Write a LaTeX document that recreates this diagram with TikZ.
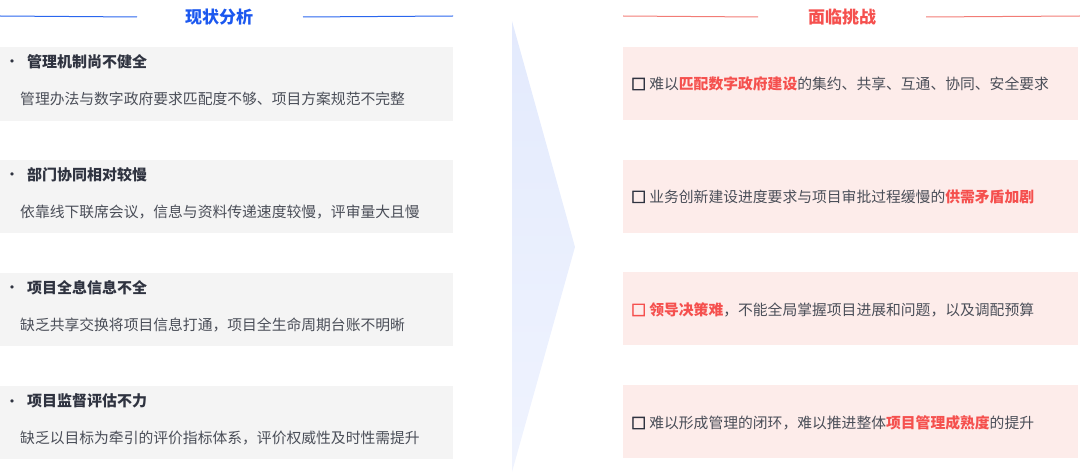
\documentclass[tikz,border=0pt]{standalone}
\usepackage{fontspec}
\setmainfont{Noto Sans CJK SC}
\newfontfamily\sqfont{Noto Sans CJK SC}[FakeBold=5]
\newfontfamily\dotfont{DejaVu Sans}
\usetikzlibrary{shadings}
\definecolor{greybox}{HTML}{F4F4F4}
\definecolor{pinkbox}{HTML}{FDECEA}
\definecolor{txt}{HTML}{4A4E58}
\definecolor{ttl}{HTML}{2F3340}
\definecolor{hred}{HTML}{F5504E}
\definecolor{hblue}{HTML}{1C58EF}
\definecolor{lblue}{HTML}{2A66EE}
\definecolor{lred}{HTML}{F27C76}
\definecolor{tri}{HTML}{E3EAFD}
\tikzset{
  leftbox/.style={fill=greybox, draw=none},
  rightbox/.style={fill=pinkbox, draw=none},
  head/.style={font=\fontsize{17}{20}\selectfont\bfseries, inner sep=0pt},
  ltitle/.style={anchor=west, font=\fontsize{15}{18}\selectfont\bfseries, text=ttl, inner sep=0pt},
  lbody/.style={anchor=west, font=\fontsize{14.8}{18}\selectfont, text=txt, inner sep=0pt},
  rtext/.style={anchor=west, font=\fontsize{14.8}{18}\selectfont, text=txt, inner sep=0pt},
  dot/.style={anchor=base, font=\dotfont\fontsize{11}{13}\selectfont, text=ttl, inner sep=0pt},
}
\newcommand{\hl}[1]{\textcolor{hred}{\bfseries #1}}
\newcommand{\sqm}{{\sqfont □}}
\begin{document}
\begin{tikzpicture}[x=1pt,y=-1pt]
\useasboundingbox (0,0) rectangle (1080,473);
% central arrow shape
\shade[top color=tri, bottom color=tri!55!white] (512,21) -- (575,247) -- (512,472) -- cycle;
% headers
\node[head, text=hblue] (h1) at (219,17) {现状分析};
\coordinate (h1l) at (0,16);
\coordinate (h1r) at (453,16);
\draw[lblue, line width=1pt] (h1l) -- (h1.west -| 137,0);
\draw[lblue, line width=1pt] (h1.east -| 303,0) -- (h1r);
\node[head, text=hred] (h2) at (842,17) {面临挑战};
\coordinate (h2l) at (623,16);
\coordinate (h2r) at (1080,16);
\draw[lred, line width=1pt] (h2l) -- (h2.west -| 758,0);
\draw[lred, line width=1pt] (h2.east -| 926,0) -- (h2r);
% left boxes
\fill[leftbox] (0,47) rectangle (453,121);
\fill[leftbox] (0,160) rectangle (453,233);
\fill[leftbox] (0,273) rectangle (453,346);
\fill[leftbox] (0,386) rectangle (453,459);
\node[dot] (d1) at (12,66) {•};
\node[ltitle] (t1) at (27,62) {管理机制尚不健全};
\node[lbody] (b1) at (20,99) {管理办法与数字政府要求匹配度不够、项目方案规范不完整};
\node[dot] (d2) at (12,179) {•};
\node[ltitle] (t2) at (27,175) {部门协同相对较慢};
\node[lbody] (b2) at (20,212) {依靠线下联席会议，信息与资料传递速度较慢，评审量大且慢};
\node[dot] (d3) at (12,292) {•};
\node[ltitle] (t3) at (27,288) {项目全息信息不全};
\node[lbody] (b3) at (20,325) {缺乏共享交换将项目信息打通，项目全生命周期台账不明晰};
\node[dot] (d4) at (12,405) {•};
\node[ltitle] (t4) at (27,401) {项目监督评估不力};
\node[lbody] (b4) at (20,438) {缺乏以目标为牵引的评价指标体系，评价权威性及时性需提升};
% right boxes
\fill[rightbox] (623,47) rectangle (1078,120);
\fill[rightbox] (623,160) rectangle (1078,233);
\fill[rightbox] (623,272) rectangle (1078,345);
\fill[rightbox] (623,385) rectangle (1078,458);
\node[rtext] (r1) at (631,84) {\textcolor{ttl}{\sqm} 难以\hl{匹配数字政府建设}的集约、共享、互通、协同、安全要求};
\node[rtext] (r2) at (631,197) {\textcolor{ttl}{\sqm} 业务创新建设进度要求与项目审批过程缓慢的\hl{供需矛盾加剧}};
\node[rtext] (r3) at (631,310) {\textcolor{hred}{\sqm} \hl{领导决策难}，不能全局掌握项目进展和问题，以及调配预算};
\node[rtext] (r4) at (631,423) {\textcolor{ttl}{\sqm} 难以形成管理的闭环，难以推进整体\hl{项目管理成熟度}的提升};
\end{tikzpicture}
\end{document}
